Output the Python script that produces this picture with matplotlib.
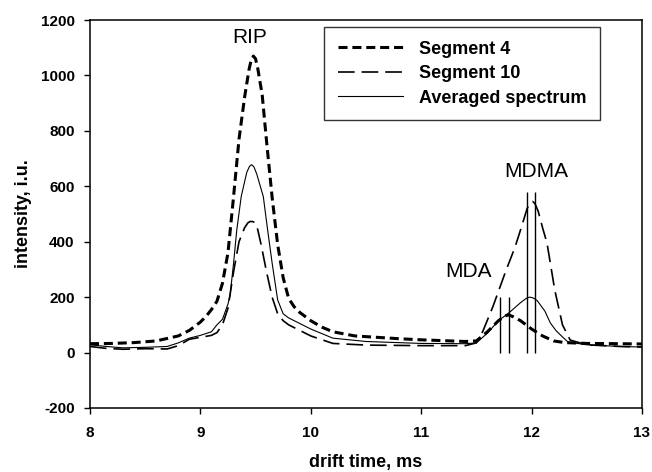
import matplotlib
matplotlib.use("Agg")
import matplotlib.pyplot as plt

plt.rcParams['font.family'] = ['Liberation Sans', 'DejaVu Sans']
plt.rcParams['lines.scale_dashes'] = False
plt.rcParams['axes.unicode_minus'] = False

# Segment 4 (thick short dashes)
t_seg4 = [8.0, 8.2, 8.4, 8.6, 8.8, 8.9, 9.0, 9.05, 9.1, 9.15, 9.2, 9.25, 9.3, 9.35, 9.4, 9.44,
          9.46, 9.48, 9.50, 9.52, 9.56, 9.6, 9.65, 9.7, 9.75, 9.8, 9.85, 9.9, 10.0, 10.1, 10.2,
          10.4, 10.6, 10.8, 11.0, 11.2, 11.4, 11.5, 11.6, 11.7, 11.76, 11.79, 11.83, 11.9, 12.0,
          12.1, 12.2, 12.3, 12.5, 12.8, 13.0]
v_seg4 = [32, 33, 36, 42, 60, 80, 110, 130, 155, 185, 250, 360, 560, 770, 920, 1020,
          1055, 1070, 1060, 1025, 930, 760, 560, 390, 270, 195, 165, 145, 115, 92, 75,
          60, 55, 50, 46, 43, 40, 42, 75, 115, 132, 136, 130, 115, 85,
          60, 42, 36, 33, 32, 31]

# Segment 10 (long dashes)
t_seg10 = [8.0, 8.15, 8.3, 8.5, 8.7, 8.8, 8.9, 9.0, 9.1, 9.15, 9.2, 9.25, 9.3, 9.35, 9.4, 9.43,
           9.45, 9.47, 9.49, 9.51, 9.55, 9.6, 9.65, 9.7, 9.75, 9.8, 9.9, 10.0, 10.2, 10.5, 11.0,
           11.4, 11.5, 11.56, 11.65, 11.77, 11.85, 11.91, 11.96, 11.99, 12.01, 12.03, 12.06,
           12.1, 12.14, 12.21, 12.28, 12.35, 12.5, 12.8, 13.0]
v_seg10 = [22, 15, 12, 14, 13, 25, 48, 55, 62, 72, 100, 160, 290, 400, 450, 468,
           473, 473, 470, 460, 390, 290, 200, 140, 115, 100, 80, 60, 33, 27, 25,
           25, 35, 78, 166, 298, 380, 455, 520, 542, 545, 538, 510,
           450, 395, 226, 100, 45, 28, 22, 20]

# Averaged spectrum (thin solid)
t_avg = [8.0, 8.15, 8.3, 8.5, 8.7, 8.8, 8.9, 9.0, 9.1, 9.15, 9.2, 9.25, 9.27, 9.3, 9.33, 9.37,
         9.42, 9.445, 9.465, 9.485, 9.51, 9.57, 9.61, 9.65, 9.7, 9.75, 9.8, 9.9, 10.0, 10.2,
         10.5, 11.0, 11.4, 11.5, 11.6, 11.7, 11.8, 11.9, 11.95, 11.98, 12.01, 12.05, 12.12,
         12.17, 12.22, 12.26, 12.33, 12.5, 12.8, 13.0]
v_avg = [28, 22, 17, 19, 22, 35, 52, 62, 75, 100, 120, 175, 210, 320, 443, 563,
         650, 672, 678, 670, 645, 563, 440, 323, 190, 140, 125, 105, 85, 52,
         40, 33, 32, 35, 70, 115, 145, 180, 195, 200, 198, 188, 150,
         107, 80, 64, 38, 28, 22, 20]

# marker lines for MDA and MDMA
mark_t = [11.71, 11.80, 11.955, 12.03]
mark_top = [200, 200, 580, 580]

labels = ["Segment 4", "Segment 10", "Averaged spectrum"]
peak_names = ["RIP", "MDA", "MDMA"]
peak_pos_t = [9.445, 11.43, 12.045]
peak_pos_v = [1136, 292, 653]

fig = plt.figure(figsize=(6.52, 4.72), dpi=100)
ax = fig.add_axes([0.138, 0.1356, 0.8466, 0.822])

ax.plot(t_seg4, v_seg4, color='black', lw=2.2, dashes=(6.5, 3.5), label=labels[0])
ax.plot(t_seg10, v_seg10, color='black', lw=1.2, dashes=(12, 5), label=labels[1])
ax.plot(t_avg, v_avg, color='black', lw=0.8, label=labels[2])
ax.vlines(mark_t, 0, mark_top, color='black', lw=1.0)

for name, tt, vv in zip(peak_names, peak_pos_t, peak_pos_v):
    ax.text(tt, vv, name, ha='center', va='center', fontsize=15)

ax.set_xlim(8, 13)
ax.set_ylim(-200, 1200)
ax.set_xticks([8, 9, 10, 11, 12, 13])
ax.set_yticks(range(-200, 1201, 200))
ax.tick_params(direction='out', length=4, width=1, labelsize=11, top=False, right=False)
ax.tick_params(axis='x', pad=9)
ax.tick_params(axis='y', pad=7)
for lab in ax.get_xticklabels() + ax.get_yticklabels():
    lab.set_fontweight('bold')
for s in ax.spines.values():
    s.set_linewidth(1.1)

ax.set_xlabel("drift time, ms", fontsize=13, fontweight='bold', labelpad=10)
ax.set_ylabel("intensity, i.u.", fontsize=13, fontweight='bold', labelpad=6)

leg = ax.legend(loc='upper right', bbox_to_anchor=(0.924, 0.982), frameon=True,
                fancybox=False, edgecolor='black', handlelength=3.6, handletextpad=0.9,
                labelspacing=0.42, borderpad=0.75, borderaxespad=0,
                prop={'weight': 'bold', 'size': 13})
leg.get_frame().set_linewidth(1.0)

fig.savefig("out.png", dpi=100)
